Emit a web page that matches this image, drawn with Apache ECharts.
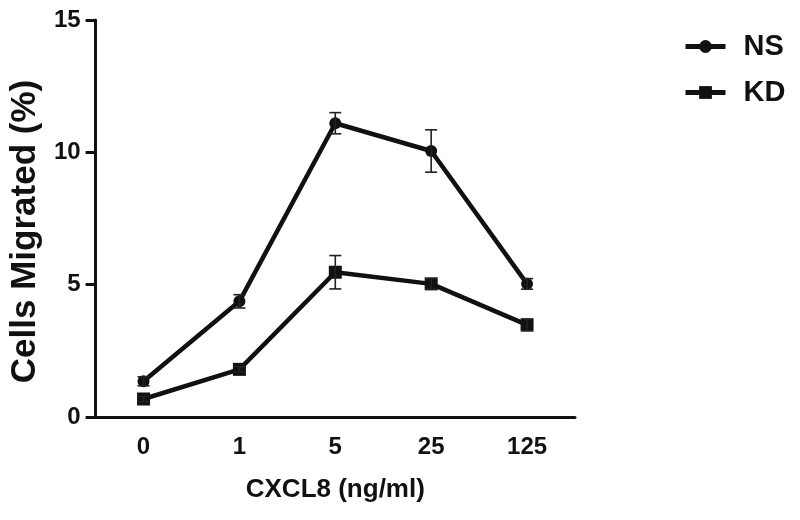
<!DOCTYPE html>
<html>
<head>
<meta charset="utf-8">
<script src="https://cdn.jsdelivr.net/npm/echarts@6/dist/echarts.min.js"></script>
<style>html,body{margin:0;padding:0;background:#fff}#c{width:800px;height:520px}</style>
</head>
<body>
<div id="c"></div>
<script>
var categories = ['0', '1', '5', '25', '125'];
var nsValues = [1.35, 4.37, 11.1, 10.05, 5.03];
var nsErrors = [0.17, 0.25, 0.4, 0.8, 0.2];
var kdValues = [0.68, 1.8, 5.47, 5.03, 3.48];
var kdErrors = [0.1, 0.1, 0.63, 0.2, 0.22];
var yTicks = [0, 5, 10, 15];

var FONT = 'Liberation Sans, Arial, sans-serif';
var INK = '#111';

function errData(vals, errs) {
  return vals.map(function (v, i) { return [i, v - errs[i], v + errs[i]]; });
}
function errRender(params, api) {
  var i = api.value(0);
  var lo = api.coord([i, api.value(1)]);
  var hi = api.coord([i, api.value(2)]);
  var w = 6;
  var st = { stroke: '#222', lineWidth: 1.6 };
  return {
    type: 'group',
    children: [
      { type: 'line', shape: { x1: hi[0], y1: hi[1], x2: lo[0], y2: lo[1] }, style: st },
      { type: 'line', shape: { x1: hi[0] - w, y1: hi[1], x2: hi[0] + w, y2: hi[1] }, style: st },
      { type: 'line', shape: { x1: lo[0] - w, y1: lo[1], x2: lo[0] + w, y2: lo[1] }, style: st }
    ]
  };
}

var chart = echarts.init(document.getElementById('c'), null, { renderer: 'canvas' });
chart.setOption({
  animation: false,
  backgroundColor: '#fff',
  grid: { left: 95, right: 225, top: 20, bottom: 103, containLabel: false },
  legend: {
    orient: 'vertical',
    left: 683,
    top: 32,
    padding: 0,
    itemWidth: 40,
    itemHeight: 16,
    itemGap: 17,
    data: ['NS', 'KD'],
    lineStyle: { width: 5, color: INK },
    textStyle: { fontFamily: FONT, fontSize: 29, fontWeight: 'bold', color: INK, padding: [0, 0, 0, 13] }
  },
  xAxis: {
    type: 'category',
    data: categories,
    boundaryGap: true,
    name: 'CXCL8 (ng/ml)',
    nameLocation: 'middle',
    nameGap: 60,
    nameTextStyle: { fontFamily: FONT, fontSize: 26, fontWeight: 'bold', color: INK },
    axisLine: { lineStyle: { color: INK, width: 3 } },
    axisTick: { alignWithLabel: true, length: 10, lineStyle: { color: INK, width: 3 } },
    axisLabel: { fontFamily: FONT, fontSize: 24, fontWeight: 'bold', color: INK, margin: 18 }
  },
  yAxis: {
    type: 'value',
    min: yTicks[0],
    max: yTicks[yTicks.length - 1],
    interval: 5,
    name: 'Cells Migrated (%)',
    nameLocation: 'middle',
    nameGap: 50,
    nameTextStyle: { fontFamily: FONT, fontSize: 35, fontWeight: 'bold', color: INK, padding: [0, 26, 0, 0] },
    axisLine: { show: true, lineStyle: { color: INK, width: 3 } },
    axisTick: { show: true, length: 10, lineStyle: { color: INK, width: 3 } },
    axisLabel: { fontFamily: FONT, fontSize: 24, fontWeight: 'bold', color: INK, margin: 15 },
    splitLine: { show: false }
  },
  series: [
    {
      name: 'NS', type: 'line', data: nsValues,
      symbol: 'circle', symbolSize: 12,
      lineStyle: { color: INK, width: 4.5 },
      itemStyle: { color: INK },
      z: 3
    },
    {
      name: 'KD', type: 'line', data: kdValues,
      symbol: 'rect', symbolSize: 13,
      lineStyle: { color: INK, width: 4.5 },
      itemStyle: { color: INK },
      z: 3
    },
    { type: 'custom', renderItem: errRender, data: errData(nsValues, nsErrors), z: 4, silent: true },
    { type: 'custom', renderItem: errRender, data: errData(kdValues, kdErrors), z: 4, silent: true }
  ]
});
</script>
</body>
</html>
